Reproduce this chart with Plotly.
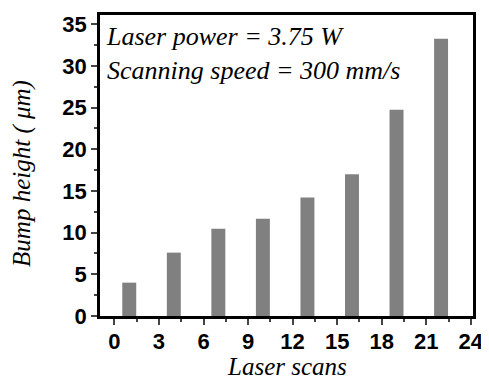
import plotly.graph_objects as go

scans = [1, 4, 7, 10, 13, 16, 19, 22]
heights = [4.0, 7.6, 10.45, 11.65, 14.2, 17.0, 24.75, 33.25]
x_ticks = [0, 3, 6, 9, 12, 15, 18, 21, 24]
y_ticks = [0, 5, 10, 15, 20, 25, 30, 35]
x_title = "Laser scans"
y_title = "Bump height ( μm)"
note = "Laser power = 3.75 W<br>Scanning speed = 300 mm/s"

fig = go.Figure()
fig.add_trace(go.Bar(x=scans, y=heights, width=0.94,
                     marker=dict(color="#808080", line=dict(width=0))))

tickfont = dict(family="Liberation Sans", size=22, color="black", weight="bold")
titlefont = dict(family="Liberation Serif", size=25, color="black", style="italic")

# page body has an 8px default margin, so the figure is sized to fit the window
fig.update_layout(
    width=481, height=368,
    margin=dict(l=92, r=16, t=7, b=60),
    paper_bgcolor="white", plot_bgcolor="white",
    showlegend=False,
    xaxis=dict(range=[-0.97, 24.15], tickvals=x_ticks, ticks="outside", ticklen=6, tickwidth=2,
               showline=True, linewidth=2.5, linecolor="black", mirror=True, automargin=False,
               showgrid=False, zeroline=False, tickfont=tickfont, ticklabelstandoff=-2,
               minor=dict(tickvals=[1.5 + 3 * i for i in range(8)], ticks="outside", ticklen=3, tickwidth=1.5)),
    yaxis=dict(range=[0, 36.1], tickvals=y_ticks, ticks="outside", ticklen=6, tickwidth=2,
               showline=True, linewidth=2.5, linecolor="black", mirror=True, automargin=False,
               showgrid=False, zeroline=False, tickfont=tickfont,
               minor=dict(tickvals=[2.5 + 5 * i for i in range(7)], ticks="outside", ticklen=3, tickwidth=1.5)),
)

fig.add_annotation(xref="paper", yref="paper", x=0.5, y=0, xanchor="center", yanchor="middle",
                   yshift=-50, showarrow=False, text=x_title, font=titlefont)
fig.add_annotation(xref="paper", yref="paper", x=0, y=0.472, xanchor="center", yanchor="middle",
                   xshift=-78, textangle=-90, showarrow=False, text=y_title, font=titlefont)
fig.add_annotation(xref="paper", yref="paper", x=0.01, y=0.985, xanchor="left", yanchor="top",
                   align="left", showarrow=False, text=note,
                   font=dict(family="Liberation Serif", size=26, color="black", style="italic"))

fig.write_html("out.html")
